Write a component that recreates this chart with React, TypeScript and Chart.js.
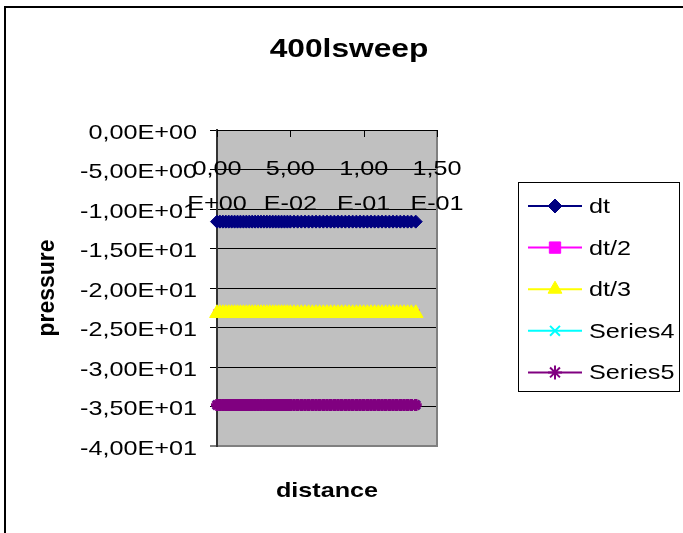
import React, { useEffect, useRef } from "react";
import { Chart, registerables } from "chart.js";
import { drawPoint } from "chart.js/helpers";

Chart.register(...registerables);

// ---------- data ----------
const chartTitle = "400lsweep";
const xTitle = "distance";
const yTitle = "pressure";

const seriesNames = ["dt", "dt/2", "dt/3", "Series4", "Series5"];

const distance = [
  0, 0.002, 0.004, 0.006, 0.008, 0.01, 0.012, 0.014, 0.016, 0.018,
  0.02, 0.022, 0.024, 0.026, 0.028, 0.03, 0.032, 0.034, 0.036, 0.038,
  0.04, 0.042, 0.044, 0.046, 0.048, 0.05, 0.0525, 0.055, 0.0575, 0.06,
  0.0625, 0.065, 0.0675, 0.07, 0.0725, 0.075, 0.0775, 0.08, 0.0825, 0.085,
  0.0875, 0.09, 0.0925, 0.095, 0.0975, 0.1, 0.1025, 0.105, 0.1075, 0.11,
  0.1125, 0.115, 0.1175, 0.12, 0.1225, 0.125, 0.1275, 0.13, 0.1325, 0.1355,
];

const pressureDt = [
  -11.6, -11.6, -11.6, -11.6, -11.6, -11.6, -11.6, -11.6, -11.6, -11.6,
  -11.6, -11.6, -11.6, -11.6, -11.6, -11.6, -11.6, -11.6, -11.6, -11.6,
  -11.6, -11.6, -11.6, -11.6, -11.6, -11.6, -11.6, -11.6, -11.6, -11.6,
  -11.6, -11.6, -11.6, -11.6, -11.6, -11.6, -11.6, -11.6, -11.6, -11.6,
  -11.6, -11.6, -11.6, -11.6, -11.6, -11.6, -11.6, -11.6, -11.6, -11.6,
  -11.6, -11.6, -11.6, -11.6, -11.6, -11.6, -11.6, -11.6, -11.6, -11.6,
];
const pressureDt2 = [
  -23.2, -23.2, -23.2, -23.2, -23.2, -23.2, -23.2, -23.2, -23.2, -23.2,
  -23.2, -23.2, -23.2, -23.2, -23.2, -23.2, -23.2, -23.2, -23.2, -23.2,
  -23.2, -23.2, -23.2, -23.2, -23.2, -23.2, -23.2, -23.2, -23.2, -23.2,
  -23.2, -23.2, -23.2, -23.2, -23.2, -23.2, -23.2, -23.2, -23.2, -23.2,
  -23.2, -23.2, -23.2, -23.2, -23.2, -23.2, -23.2, -23.2, -23.2, -23.2,
  -23.2, -23.2, -23.2, -23.2, -23.2, -23.2, -23.2, -23.2, -23.2, -23.2,
];
const pressureDt3 = [
  -23.2, -23.2, -23.2, -23.2, -23.2, -23.2, -23.2, -23.2, -23.2, -23.2,
  -23.2, -23.2, -23.2, -23.2, -23.2, -23.2, -23.2, -23.2, -23.2, -23.2,
  -23.2, -23.2, -23.2, -23.2, -23.2, -23.2, -23.2, -23.2, -23.2, -23.2,
  -23.2, -23.2, -23.2, -23.2, -23.2, -23.2, -23.2, -23.2, -23.2, -23.2,
  -23.2, -23.2, -23.2, -23.2, -23.2, -23.2, -23.2, -23.2, -23.2, -23.2,
  -23.2, -23.2, -23.2, -23.2, -23.2, -23.2, -23.2, -23.2, -23.2, -23.2,
];
const pressureS4 = [
  -34.8, -34.8, -34.8, -34.8, -34.8, -34.8, -34.8, -34.8, -34.8, -34.8,
  -34.8, -34.8, -34.8, -34.8, -34.8, -34.8, -34.8, -34.8, -34.8, -34.8,
  -34.8, -34.8, -34.8, -34.8, -34.8, -34.8, -34.8, -34.8, -34.8, -34.8,
  -34.8, -34.8, -34.8, -34.8, -34.8, -34.8, -34.8, -34.8, -34.8, -34.8,
  -34.8, -34.8, -34.8, -34.8, -34.8, -34.8, -34.8, -34.8, -34.8, -34.8,
  -34.8, -34.8, -34.8, -34.8, -34.8, -34.8, -34.8, -34.8, -34.8, -34.8,
];
const pressureS5 = [
  -34.8, -34.8, -34.8, -34.8, -34.8, -34.8, -34.8, -34.8, -34.8, -34.8,
  -34.8, -34.8, -34.8, -34.8, -34.8, -34.8, -34.8, -34.8, -34.8, -34.8,
  -34.8, -34.8, -34.8, -34.8, -34.8, -34.8, -34.8, -34.8, -34.8, -34.8,
  -34.8, -34.8, -34.8, -34.8, -34.8, -34.8, -34.8, -34.8, -34.8, -34.8,
  -34.8, -34.8, -34.8, -34.8, -34.8, -34.8, -34.8, -34.8, -34.8, -34.8,
  -34.8, -34.8, -34.8, -34.8, -34.8, -34.8, -34.8, -34.8, -34.8, -34.8,
];

const xTicks = [0, 0.05, 0.1, 0.15];
const yTicks = [0, -5, -10, -15, -20, -25, -30, -35, -40];

// ---------- styles ----------
const seriesValues = [pressureDt, pressureDt2, pressureDt3, pressureS4, pressureS5];
const seriesColors = ["#000080", "#FF00FF", "#FFFF00", "#00FFFF", "#800080"];
const seriesPointStyles = ["rectRot", "rect", "triangle", "crossRot", "star"];
const seriesPointRadius = [6.5, 5, 8.5, 6, 6];
const seriesPointBorder = [1, 1, 1, 2, 3.5];
const seriesOrder = [0, 4, 2, 3, 1];
const legendPointRadius = [7, 8, 8, 7, 7];
const legendPointBorder = [1, 1, 1, 2, 2];

const FONT = '"Liberation Sans", Arial, sans-serif';
const SX = 1.2;

function sci(v: number): string {
  const s = v.toExponential(2);
  const [m, e] = s.split("e");
  const sign = e[0] === "-" ? "-" : "+";
  const digits = e.replace(/^[+-]/, "").padStart(2, "0");
  return m.replace(".", ",") + "E" + sign + digits;
}

function drawText(
  ctx: CanvasRenderingContext2D,
  text: string,
  x: number,
  y: number,
  font: string,
  align: CanvasTextAlign,
  sx: number = SX
) {
  ctx.save();
  ctx.font = font;
  ctx.textAlign = align;
  ctx.textBaseline = "alphabetic";
  ctx.fillStyle = "#000";
  ctx.translate(x, y);
  ctx.scale(sx, 1);
  ctx.fillText(text, 0, 0);
  ctx.restore();
}

const decorPlugin = {
  id: "excelDecor",
  beforeDraw(chart: any) {
    const ctx: CanvasRenderingContext2D = chart.ctx;
    const a = chart.chartArea;
    ctx.save();
    ctx.fillStyle = "#fff";
    ctx.fillRect(0, 0, chart.width, chart.height);
    ctx.strokeStyle = "#000";
    ctx.lineWidth = 2;
    ctx.strokeRect(5, 7, 720, 620);
    ctx.fillStyle = "#C0C0C0";
    ctx.fillRect(a.left, a.top, a.right - a.left, a.bottom - a.top);
    ctx.restore();
  },
  afterDraw(chart: any) {
    const ctx: CanvasRenderingContext2D = chart.ctx;
    const a = chart.chartArea;
    const xs = chart.scales.x;
    const ys = chart.scales.y;
    ctx.save();
    // right border of plot area
    ctx.strokeStyle = "#808080";
    ctx.lineWidth = 2;
    ctx.beginPath();
    ctx.moveTo(a.right, a.top);
    ctx.lineTo(a.right, a.bottom + 1);
    ctx.stroke();
    // top x axis line + ticks
    ctx.strokeStyle = "#000";
    ctx.lineWidth = 1;
    ctx.beginPath();
    ctx.moveTo(a.left, Math.round(a.top) + 0.5);
    ctx.lineTo(a.right, Math.round(a.top) + 0.5);
    for (const v of xTicks) {
      const px = Math.round(xs.getPixelForValue(v)) + 0.5;
      ctx.moveTo(px, a.top);
      ctx.lineTo(px, a.top + 7);
    }
    ctx.stroke();
    ctx.restore();

    const f21 = `21px ${FONT}`;
    // x tick labels (two lines)
    for (const v of xTicks) {
      const px = xs.getPixelForValue(v);
      const s = sci(v);
      const i = s.indexOf("E");
      drawText(ctx, s.slice(0, i), px, a.top + 45, f21, "center");
      drawText(ctx, s.slice(i), px, a.top + 80, f21, "center");
    }
    // y tick labels
    for (const v of yTicks) {
      const py = ys.getPixelForValue(v);
      drawText(ctx, sci(v), 197, py + 8.5, f21, "right");
    }
    // titles
    drawText(ctx, chartTitle, 349, 57, `bold 26px ${FONT}`, "center", 1.22);
    drawText(ctx, xTitle, (a.left + a.right) / 2, 497, `bold 21px ${FONT}`, "center");
    ctx.save();
    ctx.translate(54, 288);
    ctx.rotate(-Math.PI / 2);
    ctx.font = `bold 23px ${FONT}`;
    ctx.textAlign = "center";
    ctx.textBaseline = "alphabetic";
    ctx.fillStyle = "#000";
    ctx.fillText(yTitle, 0, 0);
    ctx.restore();

    // legend
    ctx.save();
    ctx.strokeStyle = "#000";
    ctx.lineWidth = 1;
    ctx.strokeRect(518.5, 182.5, 161, 209);
    ctx.restore();
    chart.data.datasets.forEach((ds: any, i: number) => {
      const cy = 206 + i * 41.6;
      ctx.save();
      ctx.strokeStyle = ds.borderColor;
      ctx.lineWidth = 2;
      ctx.beginPath();
      ctx.moveTo(528, cy);
      ctx.lineTo(582, cy);
      ctx.stroke();
      ctx.fillStyle = ds.pointBackgroundColor;
      ctx.strokeStyle = ds.pointBorderColor;
      ctx.lineWidth = legendPointBorder[i];
      drawPoint(
        ctx,
        {
          pointStyle: ds.pointStyle,
          radius: legendPointRadius[i],
          rotation: 0,
          borderWidth: legendPointBorder[i],
        } as any,
        555,
        cy
      );
      ctx.restore();
      drawText(ctx, ds.label, 589, cy + 7, f21, "left");
    });
  },
};

export default function App() {
  const ref = useRef<HTMLCanvasElement>(null);
  useEffect(() => {
    if (!ref.current) return;
    const datasets = seriesNames.map((name, i) => ({
      label: name,
      data: distance.map((x, j) => ({ x, y: seriesValues[i][j] })),
      borderColor: seriesColors[i],
      backgroundColor: seriesColors[i],
      borderWidth: 2,
      pointStyle: seriesPointStyles[i],
      pointRadius: seriesPointRadius[i],
      pointBackgroundColor: seriesColors[i],
      pointBorderColor: seriesColors[i],
      pointBorderWidth: seriesPointBorder[i],
      tension: 0,
      clip: false,
      order: seriesOrder[i],
    }));
    const chart = new Chart(ref.current, {
      type: "line",
      data: { datasets } as any,
      options: {
        animation: false,
        responsive: false,
        devicePixelRatio: 1,
        events: [],
        layout: { padding: { left: 210, top: 130, right: 246, bottom: 87 } },
        plugins: {
          legend: { display: false },
          title: { display: false },
          tooltip: { enabled: false },
        },
        scales: {
          x: {
            type: "linear",
            min: 0,
            max: 0.15,
            display: false,
          },
          y: {
            type: "linear",
            min: -40,
            max: 0,
            ticks: { display: false, stepSize: 5 },
            grid: {
              color: (c: any) => (c.tick && c.tick.value === -40 ? "#808080" : "#000000"),
              lineWidth: (c: any) => (c.tick && c.tick.value === -40 ? 2 : 1),
              tickColor: "#000000",
              tickLength: 7,
              tickWidth: 1,
            },
            border: { display: true, color: "#333333", width: 2 },
          },
        },
      } as any,
      plugins: [decorPlugin],
    });
    return () => chart.destroy();
  }, []);
  return (
    <div style={{ position: "fixed", left: 0, top: 0, width: 683, height: 533, background: "#fff" }}>
      <canvas ref={ref} width={683} height={533} style={{ display: "block", width: 683, height: 533 }} />
    </div>
  );
}
